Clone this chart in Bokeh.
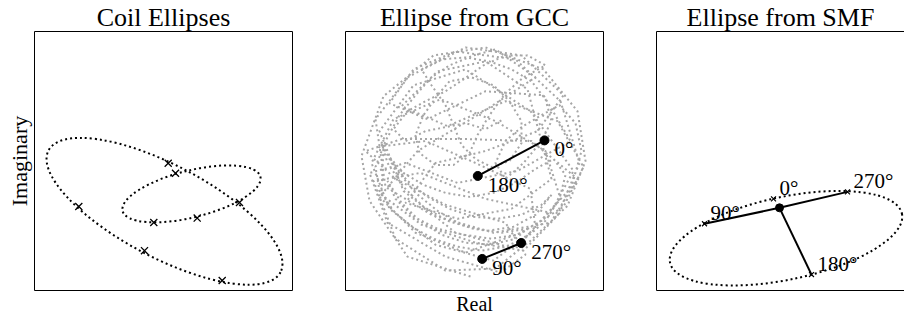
from bokeh.plotting import figure
from bokeh.layouts import row
from bokeh.models import Range1d, LinearAxis, FixedTicker
from bokeh.embed import file_html
from bokeh.resources import INLINE
from bokeh.core.properties import value

FONT = "Liberation Serif"

# ---- Panel 1: Coil Ellipses ----
coil_cx = [130, 157]
coil_cy = [79.5, 97]
coil_w = [262, 142]
coil_h = [93, 47]
coil_angle_deg = [-27.7, 14]
coil_mark_x = [44.3, 110, 187.7, 133.7, 141, 119.3, 162.7, 205]
coil_mark_y = [84.3, 40, 10, 127.7, 117.7, 68.3, 72.7, 88.3]

gcc_trace_x = [125, 62, 24, 16, 38, 88, 140, 198, 232, 240, 222, 185, 150, 100, 50, 28,
               75, 140, 205, 228, 185, 120, 68, 34, 58, 110, 170, 215, 200, 150, 95, 48,
               26, 44, 90, 148, 190, 185, 130, 80, 38, 36, 76, 130, 178, 212, 234, 215,
               170, 110, 68, 44, 82, 140, 198, 225, 172, 112, 60, 24, 42, 100, 155, 180,
               160, 100, 50, 20, 56, 122, 186, 232, 205, 148, 86, 40, 30, 62, 120, 176,
               218, 192, 140, 90, 60, 112, 166, 206, 182, 140, 92, 56, 102, 160, 212, 238,
               218, 176, 120, 70, 34, 72, 132, 190, 150,
               128, 104, 86, 70, 54, 40, 30, 34, 48, 66, 88, 112, 136, 160, 182, 200, 214, 220,
               208, 190, 170, 148, 124, 100, 78, 58, 44,
               52, 70, 92, 116, 142, 168, 190, 206,
               196, 176, 152, 128, 104, 82, 62, 46, 36,
               42, 58, 78, 102, 128, 156, 182,
               170, 146, 120, 96, 74, 56, 42,
               50, 68, 92, 118, 146, 172, 196,
               210, 226, 236, 230, 214,
               196, 176, 160, 150, 160,
               178, 196, 206, 200, 186, 166, 144, 120, 96, 76,
               86, 100, 108, 116, 130, 146, 164, 176, 176, 164, 148, 126, 104,
               92, 78, 70, 74, 90, 108, 124, 132,
               144, 160, 178, 200,
               182, 160, 138, 118, 100, 80, 62, 48,
               60, 80, 100, 120, 140, 158]
gcc_trace_y = [14, 34, 90, 135, 195, 236, 244, 222, 180, 130, 85, 50, 22, 20, 52, 110,
               118, 92, 78, 120, 180, 222, 206, 160, 100, 58, 42, 92, 140, 170, 192, 172,
               128, 82, 46, 30, 62, 102, 128, 150, 145, 96, 66, 48, 40, 75, 128, 190,
               232, 240, 222, 188, 172, 200, 196, 150, 120, 108, 128, 118, 68, 34, 18, 36,
               68, 86, 112, 140, 152, 152, 150, 112, 68, 58, 76, 104, 172, 214, 244, 236,
               196, 160, 140, 128, 88, 72, 82, 112, 202, 230, 220, 185, 165, 190, 170, 124,
               84, 58, 38, 58, 94, 140, 176, 214, 242,
               236, 226, 214, 196, 176, 150, 124, 100, 80, 64, 52, 44, 40, 44, 54, 70, 92, 116,
               132, 122, 108, 98, 94, 98, 106, 118, 134,
               120, 98, 80, 66, 60, 64, 76, 96,
               86, 76, 72, 74, 82, 94, 110, 128, 148,
               128, 104, 84, 70, 62, 58, 62,
               52, 46, 48, 56, 70, 88, 110,
               92, 74, 62, 56, 52, 56, 70,
               86, 104, 140, 168, 186,
               176, 164, 150, 128, 112,
               128, 150, 170, 192, 210, 222, 230, 234, 232, 222,
               206, 186, 166, 146, 132, 124, 130, 148, 170, 190, 206, 214, 210,
               196, 176, 156, 138, 126, 126, 138, 156,
               176, 198, 214, 226,
               236, 236, 226, 212, 200, 190, 180, 162,
               150, 160, 164, 168, 162, 172]
gcc_labels = ["0°", "180°", "270°", "90°"]
gcc_pt_x = [199, 132.3, 175.7, 136.7]
gcc_pt_y = [150.7, 115, 47.7, 31.7]

# ---- Panel 3: Ellipse from SMF ----
smf_cx = [129.5]
smf_cy = [52.5]
smf_w = [237]
smf_h = [83]
smf_angle_deg = [11.9]
smf_labels = ["0°", "90°", "180°", "270°"]
smf_x = [117, 48, 155, 191]
smf_y = [92, 67, 16, 99]
smf_center_x = [123]
smf_center_y = [83]


def make_fig(title, width, left, right, frame_w):
    p = figure(width=width, height=320, x_range=Range1d(0, frame_w), y_range=Range1d(0, 260),
               output_backend="svg", toolbar_location=None, title=title,
               min_border_left=left, min_border_right=right, min_border_top=30, min_border_bottom=30)
    p.title.text_font = FONT
    p.title.text_font_size = "26px"
    p.title.text_font_style = "normal"
    p.title.text_color = "black"
    p.title.align = "center"
    p.title.standoff = 0
    p.grid.visible = False
    p.axis.visible = False
    p.outline_line_color = "black"
    p.outline_line_width = 1
    p.background_fill_color = "white"
    p.border_fill_color = "white"
    return p


def bare_axis(ax):
    ax.ticker = FixedTicker(ticks=[])
    ax.major_tick_line_color = None
    ax.minor_tick_line_color = None
    ax.major_label_standoff = 0
    ax.major_tick_out = 0
    ax.major_tick_in = 0
    ax.minor_tick_out = 0
    ax.minor_tick_in = 0
    ax.major_label_text_font_size = "0px"


def label_axis(ax, text, size, standoff):
    ax.visible = True
    bare_axis(ax)
    ax.axis_label = text
    ax.axis_label_text_font = FONT
    ax.axis_label_text_font_size = size
    ax.axis_label_text_font_style = "normal"
    ax.axis_label_text_color = "black"
    ax.axis_label_standoff = standoff
    ax.axis_line_color = None


# Panel 1
p1 = make_fig("Coil Ellipses", 311, 34, 19, 258)
label_axis(p1.yaxis[0], "Imaginary", "22px", 3)
p1.ellipse(x=coil_cx, y=coil_cy, width=coil_w, height=coil_h, angle=coil_angle_deg, angle_units="deg",
           fill_color=None, line_color="black", line_width=2, line_dash="2 3")
p1.scatter(coil_mark_x, coil_mark_y, marker="x", size=10, line_color="black", line_width=1.3)

# Panel 2
p2 = make_fig("Ellipse from GCC", 311, 34, 19, 258)
label_axis(p2.xaxis[0], "Real", "20px", 2)
p2.line(gcc_trace_x, gcc_trace_y, line_color="#a6a6a6", line_width=2, line_dash="2 3")
p2.segment(x0=[gcc_pt_x[0], gcc_pt_x[2]], y0=[gcc_pt_y[0], gcc_pt_y[2]],
           x1=[gcc_pt_x[1], gcc_pt_x[3]], y1=[gcc_pt_y[1], gcc_pt_y[3]],
           line_color="black", line_width=2)
p2.scatter(gcc_pt_x, gcc_pt_y, marker="circle", size=9, fill_color="black", line_color="black")
p2.text(gcc_pt_x, gcc_pt_y, text=gcc_labels, x_offset=10, y_offset=9,
        text_align="left", text_baseline="middle", text_font=value(FONT),
        text_font_size="21px", text_color="black")

# Panel 3
p3 = make_fig("Ellipse from SMF", 282, 34, 0, 248)
p3.title.offset = 9
p3.outline_line_color = None
bottom_ax = p3.xaxis[0]
left_ax = p3.yaxis[0]
top_ax = LinearAxis()
p3.add_layout(top_ax, "above")
for ax in [bottom_ax, left_ax, top_ax]:
    ax.visible = True
    bare_axis(ax)
    ax.axis_line_color = "black"
    ax.axis_line_width = 1
p3.ellipse(x=smf_cx, y=smf_cy, width=smf_w, height=smf_h, angle=smf_angle_deg, angle_units="deg",
           fill_color=None, line_color="black", line_width=2, line_dash="2 3")
p3.segment(x0=[smf_center_x[0]] * 3, y0=[smf_center_y[0]] * 3,
           x1=[smf_x[1], smf_x[2], smf_x[3]], y1=[smf_y[1], smf_y[2], smf_y[3]],
           line_color="black", line_width=2)
p3.scatter(smf_x, smf_y, marker="x", size=7, line_color="black", line_width=1.2)
p3.scatter(smf_center_x, smf_center_y, marker="circle", size=8, fill_color="black", line_color="black")
p3.text(smf_x, smf_y, text=smf_labels, x_offset=6, y_offset=-11,
        text_align="left", text_baseline="middle", text_font=value(FONT),
        text_font_size="21px", text_color="black")

layout = row(p1, p2, p3, spacing=0)
open("out.html", "w").write(file_html(layout, INLINE))
